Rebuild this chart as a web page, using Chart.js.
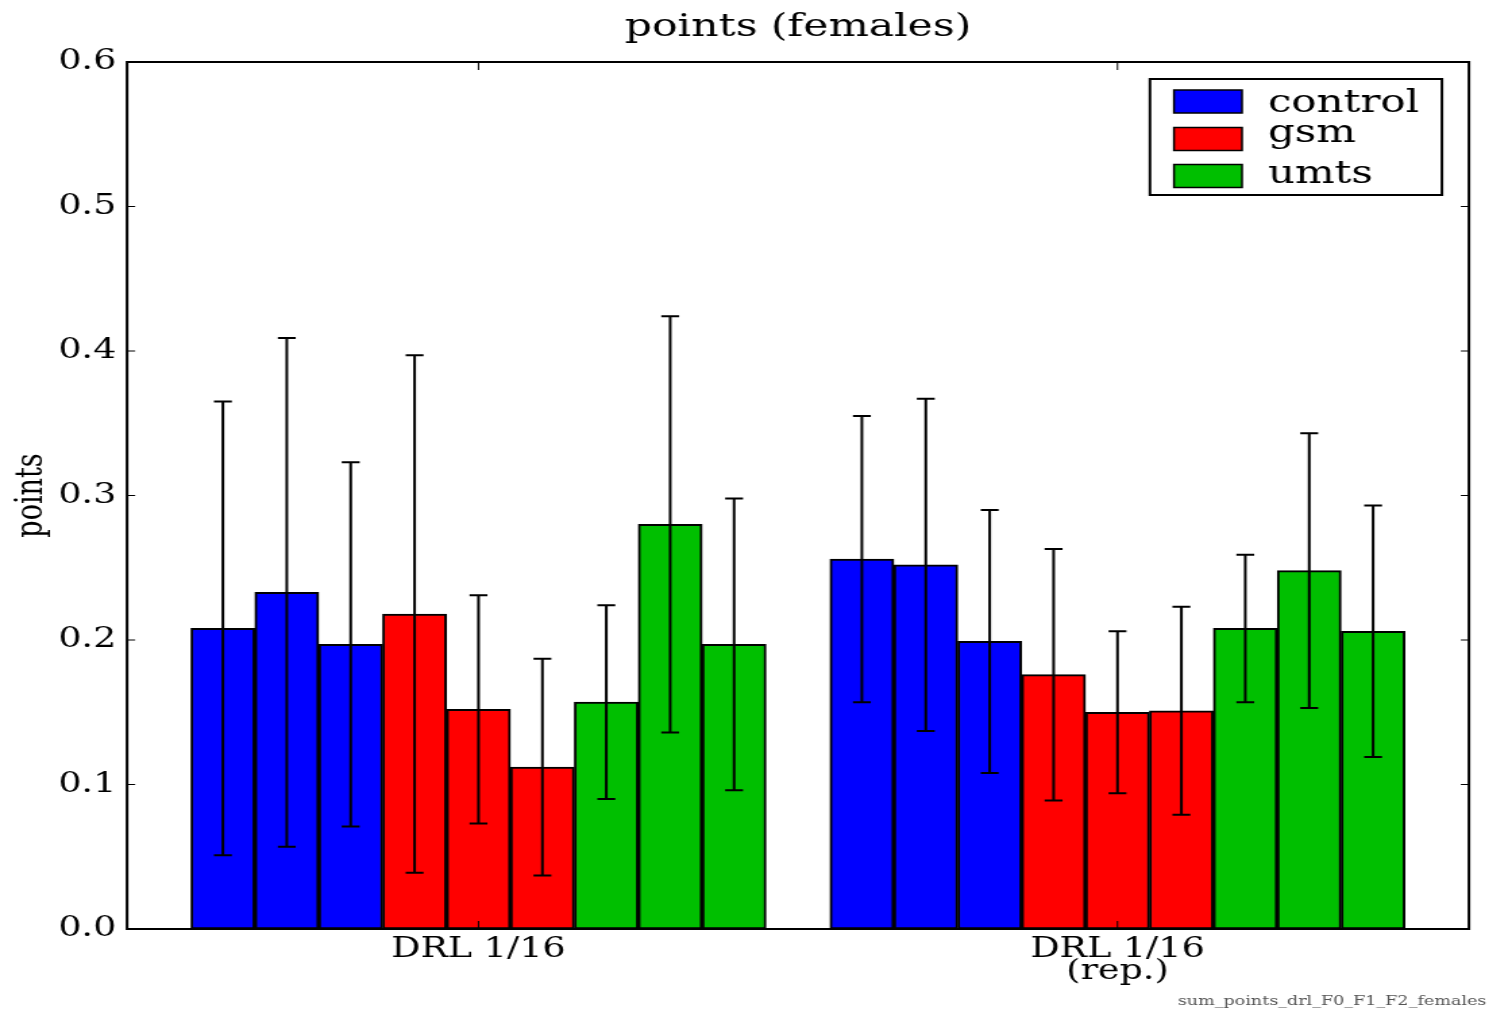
<!DOCTYPE html>
<html>
<head>
<meta charset="utf-8">
<script src="https://cdn.jsdelivr.net/npm/chart.js@4.4.1/dist/chart.umd.min.js"></script>
<style>
html, body { margin: 0; padding: 0; background: #fff; overflow: hidden; }
#caja { position: absolute; left: 0; top: 0; width: 1102px; height: 1012px; transform: scaleX(1.35); transform-origin: 0 0; }
</style>
</head>
<body>
<div id="caja"><canvas id="grafico" width="1102" height="1012"></canvas></div>
<script>
// grupos del eje x y sus posiciones (unidades de barra)
const grupos = [['DRL 1/16'], ['DRL 1/16', '(rep.)']];
const centrosGrupo = [5.5, 15.5];
const series = ['control', 'gsm', 'umts'];
const colores = ['#0000ff', '#ff0000', '#00bf00'];
// 3 barras por serie en cada grupo (primero grupo 1, luego grupo 2)
const control = [0.208, 0.233, 0.197, 0.256, 0.252, 0.199];
const controlErr = [0.157, 0.176, 0.126, 0.099, 0.115, 0.091];
const gsm = [0.218, 0.152, 0.112, 0.176, 0.150, 0.151];
const gsmErr = [0.179, 0.079, 0.075, 0.087, 0.056, 0.072];
const umts = [0.157, 0.280, 0.197, 0.208, 0.248, 0.206];
const umtsErr = [0.067, 0.144, 0.101, 0.051, 0.095, 0.087];
const yTicks = [0, 0.1, 0.2, 0.3, 0.4, 0.5, 0.6];

const valores = [control, gsm, umts];
const errores = [controlErr, gsmErr, umtsErr];

function armarDatos(s) {
    var puntos = [];
    for (var i = 0; i < valores[s].length; i++) {
        var g = Math.floor(i / 3);
        var k = i % 3;
        puntos.push({ x: centrosGrupo[g] - 4 + s * 3 + k, y: valores[s][i], err: errores[s][i] });
    }
    return puntos;
}

Chart.defaults.font.family = 'DejaVu Serif';
Chart.defaults.color = '#000';

const marco = {
    id: 'marco',
    afterDatasetsDraw(chart) {
        const ctx = chart.ctx;
        const a = chart.chartArea;
        const xs = chart.scales.x;
        const ys = chart.scales.y;
        ctx.save();
        // barras de error
        ctx.strokeStyle = '#000';
        ctx.lineWidth = 2;
        chart.data.datasets.forEach(function (ds, d) {
            const meta = chart.getDatasetMeta(d);
            meta.data.forEach(function (bar, i) {
                const p = ds.data[i];
                const cx = xs.getPixelForValue(p.x);
                const top = ys.getPixelForValue(p.y + p.err);
                const bot = ys.getPixelForValue(p.y - p.err);
                const cap = bar.width * 0.14;
                ctx.beginPath();
                ctx.moveTo(cx, top); ctx.lineTo(cx, bot);
                ctx.moveTo(cx - cap, top); ctx.lineTo(cx + cap, top);
                ctx.moveTo(cx - cap, bot); ctx.lineTo(cx + cap, bot);
                ctx.stroke();
            });
        });
        // marcas hacia dentro
        ctx.lineWidth = 1;
        ctx.beginPath();
        yTicks.forEach(function (v) {
            const py = ys.getPixelForValue(v);
            ctx.moveTo(a.left, py); ctx.lineTo(a.left + 6, py);
            ctx.moveTo(a.right, py); ctx.lineTo(a.right - 6, py);
        });
        centrosGrupo.forEach(function (v) {
            const px = xs.getPixelForValue(v);
            ctx.moveTo(px, a.bottom); ctx.lineTo(px, a.bottom - 8);
            ctx.moveTo(px, a.top); ctx.lineTo(px, a.top + 8);
        });
        ctx.stroke();
        // marco
        ctx.lineWidth = 2;
        ctx.strokeRect(a.left, a.top, a.right - a.left, a.bottom - a.top);
        ctx.restore();
    },
    afterDraw(chart) {
        const ctx = chart.ctx;
        const a = chart.chartArea;
        ctx.save();
        // leyenda
        const ancho = 216.3, alto = 116;
        const bx = a.right - 20 - ancho;
        const by = a.top + 17;
        ctx.fillStyle = '#fff';
        ctx.fillRect(bx, by, ancho, alto);
        ctx.strokeStyle = '#000';
        ctx.lineWidth = 2;
        ctx.strokeRect(bx, by, ancho, alto);
        const centros = [22.5, 60, 97];
        const bases = [33, 63, 104];
        ctx.font = '31px "DejaVu Serif"';
        ctx.textBaseline = 'alphabetic';
        ctx.textAlign = 'left';
        chart.data.datasets.forEach(function (ds, d) {
            ctx.fillStyle = ds.backgroundColor;
            ctx.fillRect(bx + 17.8, by + centros[d] - 11.5, 50.4, 23);
            ctx.lineWidth = 1.5;
            ctx.strokeRect(bx + 17.8, by + centros[d] - 11.5, 50.4, 23);
            ctx.fillStyle = '#000';
            ctx.fillText(ds.label, bx + 87.4, by + bases[d]);
        });
        // nombre del archivo
        ctx.font = '13px "DejaVu Serif"';
        ctx.fillStyle = '#555';
        ctx.textAlign = 'right';
        ctx.fillText('sum_points_drl_F0_F1_F2_females', chart.width - 1, 1005);
        ctx.restore();
    }
};

const ctx = document.getElementById('grafico').getContext('2d');
window.miGrafico = new Chart(ctx, {
    type: 'bar',
    data: {
        datasets: series.map(function (nombre, s) {
            return {
                label: nombre,
                data: armarDatos(s),
                backgroundColor: colores[s],
                borderColor: '#000',
                borderWidth: 2,
                borderSkipped: false,
                grouped: false,
                barPercentage: 1,
                categoryPercentage: 1
            };
        })
    },
    options: {
        responsive: false,
        animation: false,
        layout: { padding: { left: 0, right: 13.9, top: 0, bottom: 0 } },
        scales: {
            x: {
                type: 'linear',
                min: 0,
                max: 21,
                offset: false,
                grid: { display: false, drawTicks: false },
                border: { display: false },
                afterBuildTicks: function (scale) {
                    scale.ticks = centrosGrupo.map(function (v) { return { value: v }; });
                },
                afterFit: function (scale) { scale.height = 83; },
                ticks: {
                    autoSkip: false,
                    maxRotation: 0,
                    padding: 10,
                    font: { size: 27, lineHeight: 0.82 },
                    callback: function (v) {
                        const i = centrosGrupo.indexOf(v);
                        return i >= 0 ? grupos[i] : '';
                    }
                }
            },
            y: {
                min: 0,
                max: 0.6,
                grid: { display: false, drawTicks: false },
                border: { display: false },
                afterFit: function (scale) { scale.width = 94.1; },
                ticks: {
                    stepSize: 0.1,
                    padding: 8,
                    font: { size: 27 },
                    callback: function (v) { return v.toFixed(1); }
                },
                title: {
                    display: true,
                    text: 'points',
                    font: { size: 27 },
                    padding: { top: 8.2, bottom: 0 }
                }
            }
        },
        plugins: {
            legend: { display: false },
            tooltip: { enabled: false },
            title: {
                display: true,
                fullSize: false,
                text: 'points (females)',
                font: { size: 31.5, weight: 'normal' },
                color: '#000',
                padding: { top: 9, bottom: 15.2 }
            }
        }
    },
    plugins: [marco]
});
</script>
</body>
</html>
